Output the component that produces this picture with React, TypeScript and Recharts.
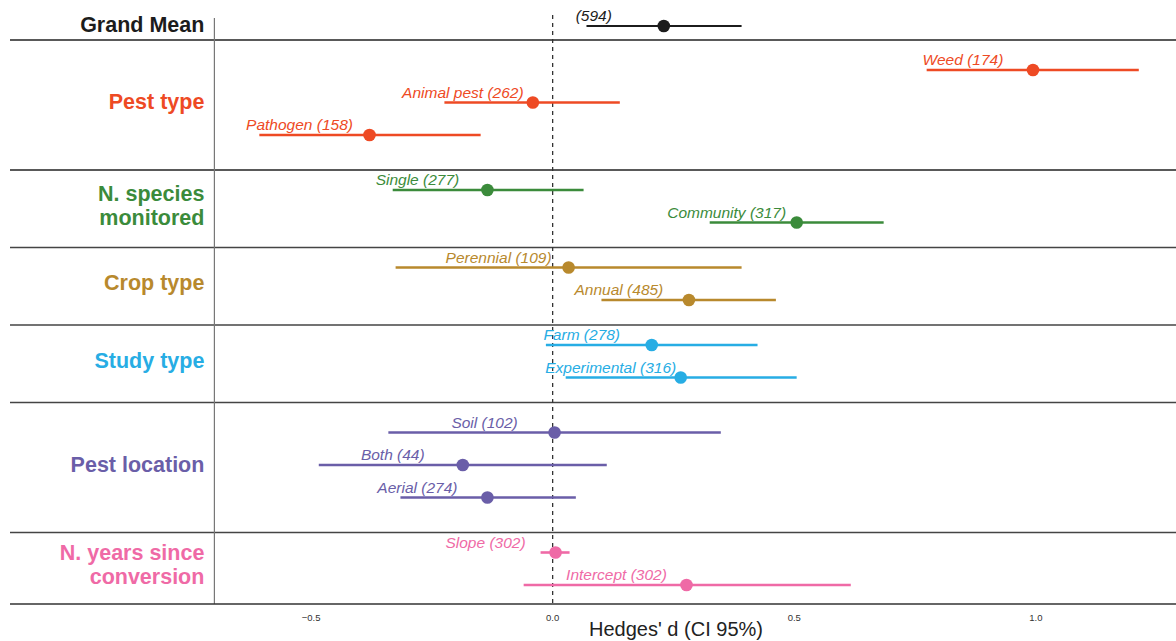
import React from "react";
import { ComposedChart, Scatter, XAxis, YAxis, ErrorBar, ReferenceLine, Label } from "recharts";

// moderator groups, top to bottom
const groupNames = [
  ["Grand Mean"],
  ["Pest type"],
  ["N. species", "monitored"],
  ["Crop type"],
  ["Study type"],
  ["Pest location"],
  ["N. years since", "conversion"],
];
const groupColors = ["#1c1c1c", "#ee4a24", "#3b8b3b", "#b8892d", "#27ade4", "#6a5ea8", "#ef6aa6"];

// one entry per estimate
const rowGroup = [0, 1, 1, 1, 2, 2, 3, 3, 4, 4, 5, 5, 5, 6, 6];
const rowLabels = ["", "Weed", "Animal pest", "Pathogen", "Single", "Community", "Perennial", "Annual", "Farm", "Experimental", "Soil", "Both", "Aerial", "Slope", "Intercept"];
const rowN = [594, 174, 262, 158, 277, 317, 109, 485, 278, 316, 102, 44, 274, 302, 302];
const estimate = [0.23, 0.994, -0.041, -0.379, -0.135, 0.505, 0.033, 0.282, 0.205, 0.265, 0.004, -0.186, -0.135, 0.006, 0.277];
const ciLow = [0.07, 0.774, -0.224, -0.607, -0.331, 0.325, -0.325, 0.101, -0.014, 0.027, -0.34, -0.484, -0.315, -0.025, -0.06];
const ciHigh = [0.391, 1.213, 0.139, -0.149, 0.064, 0.685, 0.391, 0.462, 0.424, 0.505, 0.348, 0.112, 0.048, 0.035, 0.617];

const xTicks = [-0.5, 0, 0.5, 1];

const W = 1176;
const H = 641;
const X_MIN = -1.123;
const X_MAX = 1.29;
const PANEL_X = -0.7;
const PLOT_BOTTOM = 604;
const ROW = 32.5;
const FONT = "'Liberation Sans', Arial, sans-serif";

// vertical layout of the facets (pixel units on a reversed y axis)
const rowY: number[] = [];
const separators: number[] = [];
const groupCenters: number[] = [];
let top = 0;
groupNames.forEach((_, g) => {
  const idx = rowGroup.map((gg, i) => (gg === g ? i : -1)).filter((i) => i >= 0);
  const n = idx.length;
  if (g === 0) {
    rowY[idx[0]] = 26;
    top = 40;
    separators.push(top);
    groupCenters.push(24);
    return;
  }
  const padTop = n >= 3 ? 30 : 20;
  const padBottom = n >= 3 ? 35 : 25;
  idx.forEach((r, i) => (rowY[r] = top + padTop + i * ROW));
  const last = g === groupNames.length - 1;
  const bottom = last ? PLOT_BOTTOM : top + padTop + (n - 1) * ROW + padBottom;
  groupCenters.push((top + bottom) / 2 - 3.5);
  if (!last) separators.push(bottom);
  top = bottom;
});

const groupData = groupNames.map((lines, g) =>
  rowGroup
    .map((gg, i) => ({ gg, i }))
    .filter((d) => d.gg === g)
    .map(({ i }) => ({
      x: estimate[i],
      y: rowY[i],
      err: [estimate[i] - ciLow[i], ciHigh[i] - estimate[i]],
      text: rowLabels[i] ? `${rowLabels[i]} (${rowN[i]})` : `(${rowN[i]})`,
      color: groupColors[g],
    }))
);

const labelData = groupNames.map((lines, g) => ({ x: PANEL_X, y: groupCenters[g], lines, color: groupColors[g] }));

const fmt = (v: number) => (v < 0 ? "\u2212" + Math.abs(v).toFixed(1) : v.toFixed(1));

const PointShape = (props: any) => {
  const { cx, cy, payload } = props;
  return (
    <g>
      <circle cx={cx} cy={cy} r={6.3} fill={payload.color} />
      <text x={cx - 70} y={cy - 5} textAnchor="middle" fontStyle="italic" fontSize={15.5} fill={payload.color} fontFamily={FONT}>
        {payload.text}
      </text>
    </g>
  );
};

const GroupLabel = (props: any) => {
  const { cx, cy, payload } = props;
  const lines: string[] = payload.lines;
  const first = cy + 7.5 - ((lines.length - 1) * 24) / 2;
  return (
    <text textAnchor="end" fontWeight="bold" fontSize={21.5} fill={payload.color} fontFamily={FONT}>
      {lines.map((l, i) => (
        <tspan key={i} x={cx - 10} y={first + i * 24}>
          {l}
        </tspan>
      ))}
    </text>
  );
};

export default function App() {
  return (
    <div style={{ position: "absolute", left: 0, top: 0, background: "#fff" }}>
      <ComposedChart width={W} height={H} margin={{ top: 0, right: 0, bottom: 7, left: 10 }}>
        <XAxis
          type="number"
          dataKey="x"
          domain={[X_MIN, X_MAX]}
          allowDataOverflow
          ticks={xTicks}
          tickFormatter={fmt}
          tickLine={false}
          tickMargin={4}
          height={30}
          axisLine={{ stroke: "#333", strokeWidth: 1.5 }}
          tick={{ fontSize: 9.5, fill: "#333", fontFamily: FONT }}
        >
          <Label
            content={() => (
              <text x={676} y={636} textAnchor="middle" fontSize={20} fill="#222" fontFamily={FONT}>
                Hedges' d (CI 95%)
              </text>
            )}
          />
        </XAxis>
        <YAxis type="number" dataKey="y" domain={[0, PLOT_BOTTOM]} reversed hide allowDataOverflow />
        {separators.map((s, i) => (
          <ReferenceLine key={s} y={s} stroke={i < 2 ? "#222" : "#444"} strokeWidth={1.5} />
        ))}
        <ReferenceLine segment={[{ x: PANEL_X, y: 18 }, { x: PANEL_X, y: PLOT_BOTTOM }]} stroke="#777" strokeWidth={1.2} />
        <ReferenceLine segment={[{ x: 0, y: 15 }, { x: 0, y: PLOT_BOTTOM }]} stroke="#333" strokeWidth={1.3} strokeDasharray="4 4" />
        <Scatter data={labelData} shape={GroupLabel} isAnimationActive={false} />
        {groupData.map((d, g) => (
          <Scatter key={g} data={d} shape={PointShape} isAnimationActive={false}>
            <ErrorBar dataKey="err" direction="x" width={0} stroke={groupColors[g]} strokeWidth={g === 0 ? 2 : 2.6} />
          </Scatter>
        ))}
      </ComposedChart>
    </div>
  );
}
